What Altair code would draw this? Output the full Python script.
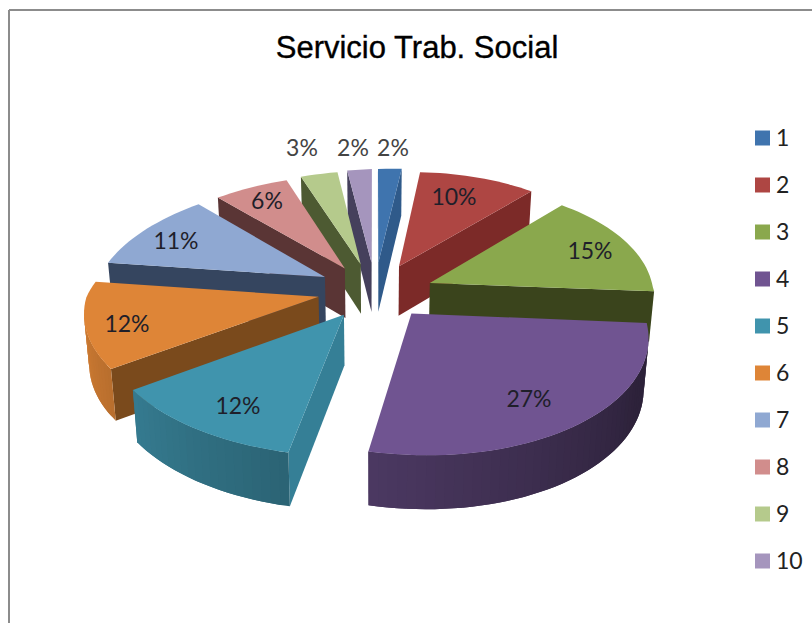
import math
import altair as alt
import pandas as pd

# Share of cases per service group
categories = ["1", "2", "3", "4", "5", "6", "7", "8", "9", "10"]
values = [2, 10, 15, 27, 12, 12, 11, 6, 3, 2]

top_colors = ["#3f74ae", "#ae4643", "#8aa84d", "#705491", "#4094ad",
              "#de8537", "#8fa8d2", "#d18d8c", "#b5ca8c", "#a595bd"]
wall_colors = ["#2f5a8a", "#7c2a28", "#3a441c", "#3b2c50", "#357f96",
               "#7a4a1c", "#35455f", "#5a3535", "#4d5a32", "#45405c"]

# Placement of the percentage labels
label_x = [393, 454, 590, 529, 238, 127, 176, 267, 302, 353]
label_y = [149, 198, 252, 400, 407, 325, 242, 202, 149, 149]

# Tilted-disc camera
CX, Y_HORIZON, SPAN, PERSP = 375.0, -513.0, 803.0, 0.142
A_LEFT, A_RIGHT = 232.0, 223.0
SKEW, ROLL = 20.0, 6.0
EXPLODE, DEPTH, TAPER = 0.25, 50.0, 0.982
# Small per-slice offsets on screen
SLICE_SHIFT = {1: (1.0, 2.0), 2: (3.0, 4.0), 6: (-1.0, 0.0), 7: (-3.0, 2.0), 8: (-2.0, 1.0)}


def project(u, v, nudge=(0.0, 0.0)):
    w = 1.0 / (1.0 + v * PERSP)
    a = A_RIGHT if u > 0 else A_LEFT
    return (CX + a * u * w + SKEW * max(0.0, -v) + nudge[0],
            Y_HORIZON + SPAN * w - ROLL * u + nudge[1],
            w)


def drop(pt):
    # the same point on the underside of the disc
    x, y, w = pt
    return CX + (x - CX) * TAPER, y + DEPTH * w ** 0.4, w


def shade(hex_color, f):
    r, g, b = (int(hex_color[i:i + 2], 16) for i in (1, 3, 5))
    return "#%02x%02x%02x" % (round(r * f), round(g * f), round(b * f))


def feature(points, color):
    ring = [[p[0], p[1]] for p in points]
    ring.append(ring[0])
    return {"type": "Feature",
            "geometry": {"type": "Polygon", "coordinates": [ring]},
            "properties": {"fill": color}}


def cross(a, b):
    return a[0] * b[1] - a[1] * b[0]


def slice_features(index, start, end, top, wall):
    nudge = SLICE_SHIFT.get(index, (0.0, 0.0))
    mid = (start + end) / 2
    ou = EXPLODE * math.sin(math.radians(mid))
    ov = EXPLODE * math.cos(math.radians(mid))
    apex = project(ou, ov, nudge)

    def on_rim(theta):
        t = math.radians(theta)
        return project(ou + math.sin(t), ov + math.cos(t), nudge)

    steps = max(3, int((end - start) / 2))
    thetas = [start + (end - start) * i / steps for i in range(steps + 1)]
    rim = [on_rim(t) for t in thetas]
    centre = on_rim(mid)
    out = []
    # straight cut faces, only where they show below the top
    for corner in (rim[0], rim[-1]):
        d = (corner[0] - apex[0], corner[1] - apex[1])
        inner = (centre[0] - apex[0], centre[1] - apex[1])
        if cross(d, (0, 1)) * cross(d, inner) < 0:
            out.append(feature([apex, corner, drop(corner), drop(apex)], wall))
    # curved outer face, lit from the left; each strip overlaps the next one
    for k in range(len(rim) - 1):
        a, b = rim[k], rim[k + 1]
        s = (b[0] - a[0], b[1] - a[1])
        outward = (a[0] - apex[0], a[1] - apex[1])
        if cross(s, (0, 1)) * cross(s, outward) > 0:
            c = rim[min(k + 2, len(rim) - 1)]
            f = min(0.95, max(0.4, 0.4 + 0.55 * ((thetas[k] + thetas[k + 1]) / 2 - 120) / 150))
            out.append(feature([a, b, c, drop(c), drop(b), drop(a)], shade(top, f)))
    out.append(feature([apex] + rim, top))
    return out


total = sum(values)
edges = [0.0]
for v in values:
    edges.append(edges[-1] + v / total * 360)

# Paint from the far side of the disc to the near side
paint_order = sorted(range(len(values)),
                     key=lambda i: -math.cos(math.radians((edges[i] + edges[i + 1]) / 2)))
features = []
for i in paint_order:
    features.extend(slice_features(i, edges[i], edges[i + 1], top_colors[i], wall_colors[i]))

x_scale = alt.Scale(domain=[0, 812], range=[0, 812], nice=False, zero=False)
y_scale = alt.Scale(domain=[0, 623], range=[0, 623], nice=False, zero=False)

pie = alt.Chart(alt.Data(values=features)).mark_geoshape(strokeWidth=0).encode(
    fill=alt.Fill("properties.fill:N", scale=None),
).project(type="identity", scale=1, translate=[0, 0])

labels_df = pd.DataFrame({
    "x": label_x, "y": label_y,
    "text": [f"{v}%" for v in values],
    "ink": ["#444444" if v <= 3 else "#1f1f2a" for v in values],
})
labels = alt.Chart(labels_df).mark_text(font="Lato", fontSize=23, baseline="middle").encode(
    x=alt.X("x:Q", scale=x_scale, axis=None),
    y=alt.Y("y:Q", scale=y_scale, axis=None),
    text="text:N",
    color=alt.Color("ink:N", scale=None),
)

legend_df = pd.DataFrame({
    "x": [762.5] * len(categories),
    "tx": [776] * len(categories),
    "y": [138 + 47 * i for i in range(len(categories))],
    "ty": [139 + 47 * i for i in range(len(categories))],
    "name": categories,
    "color": top_colors,
})
swatches = alt.Chart(legend_df).mark_point(shape="square", filled=True, size=225, opacity=1).encode(
    x=alt.X("x:Q", scale=x_scale, axis=None),
    y=alt.Y("y:Q", scale=y_scale, axis=None),
    color=alt.Color("color:N", scale=None),
)
legend_text = alt.Chart(legend_df).mark_text(
    font="Lato", fontSize=23, align="left", baseline="middle", color="#222222"
).encode(
    x=alt.X("tx:Q", scale=x_scale, axis=None),
    y=alt.Y("ty:Q", scale=y_scale, axis=None),
    text="name:N",
)

title = alt.Chart(pd.DataFrame({"x": [417], "y": [49], "t": ["Servicio Trab. Social"]})).mark_text(
    font="Liberation Sans", fontSize=31, align="center", baseline="middle",
    color="#000000", stroke="#000000", strokeWidth=0.35,
).encode(
    x=alt.X("x:Q", scale=x_scale, axis=None),
    y=alt.Y("y:Q", scale=y_scale, axis=None),
    text="t:N",
)

frame_df = pd.DataFrame({"x": [9, 9], "x2": [9, 812], "y": [10, 10], "y2": [623, 10]})
frame = alt.Chart(frame_df).mark_rule(color="#8c8c8c", strokeWidth=2).encode(
    x=alt.X("x:Q", scale=x_scale, axis=None),
    x2="x2:Q",
    y=alt.Y("y:Q", scale=y_scale, axis=None),
    y2="y2:Q",
)

chart = alt.layer(frame, pie, labels, swatches, legend_text, title).resolve_scale(
    x="shared", y="shared"
).properties(
    width=812, height=623, padding=0, autosize=alt.AutoSizeParams(type="none"),
    background="white",
).configure_view(stroke=None)

chart.save("out.html", embed_options={"renderer": "svg", "actions": False})
